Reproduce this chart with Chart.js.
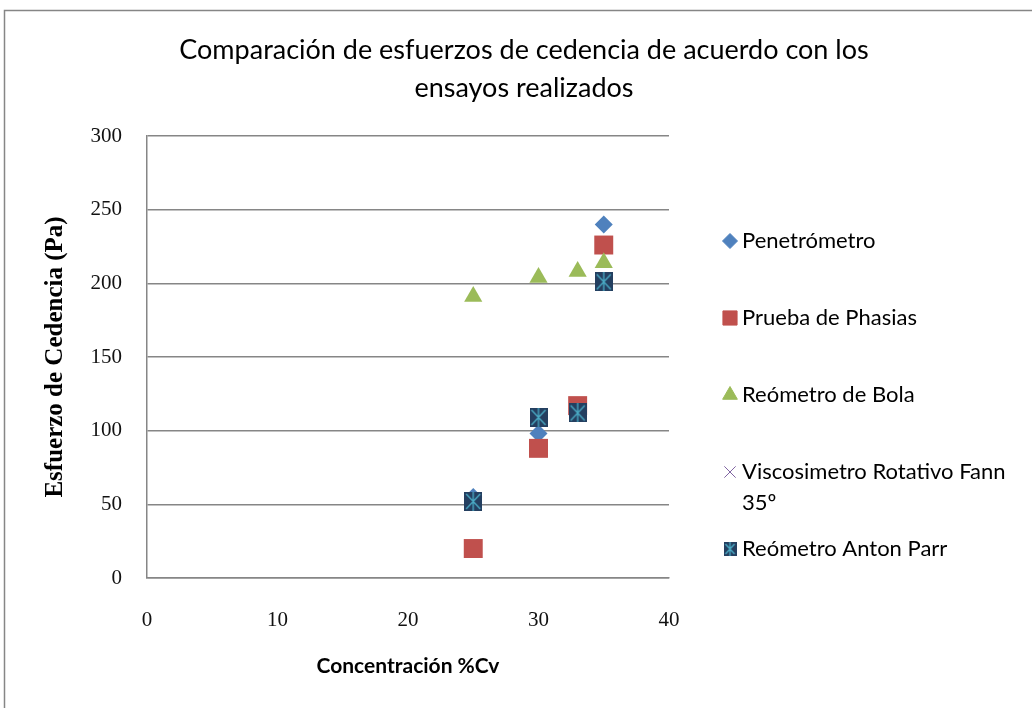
<!DOCTYPE html>
<html>
<head>
<meta charset="utf-8">
<script src="https://cdn.jsdelivr.net/npm/chart.js@4.4.1/dist/chart.umd.min.js"></script>
<style>
  html, body { margin: 0; padding: 0; background: #fff; }
  #wrap { width: 1032px; height: 708px; }
</style>
</head>
<body>
<div id="wrap"><canvas id="chart" width="1032" height="708"></canvas></div>
<script>
const chartTitle = ['Comparación de esfuerzos de cedencia de acuerdo con los', 'ensayos realizados'];
const xAxisTitle = 'Concentración %Cv';
const yAxisTitle = 'Esfuerzo de Cedencia (Pa)';

const seriesNames = ['Penetrómetro', 'Prueba de Phasias', 'Reómetro de Bola', 'Viscosimetro Rotativo Fann 35º', 'Reómetro Anton Parr'];

const penetrometroX = [25, 30, 35];
const penetrometroY = [55, 98, 240];
const phasiasX = [25, 30, 33, 35];
const phasiasY = [20, 88, 117, 226];
const bolaX = [25, 30, 33, 35];
const bolaY = [191, 204, 208, 214];
const fannX = [25, 30, 33, 35];
const fannY = [52, 109, 112, 201];
const antonParrX = [25, 30, 33, 35];
const antonParrY = [52, 109, 112, 201];

const xTicks = [0, 10, 20, 30, 40];
const yTicks = [0, 50, 100, 150, 200, 250, 300];

function toPoints(xs, ys) {
    return xs.map((x, i) => ({ x: x, y: ys[i] }));
}

// marcador tipo "estrella" de Excel: cuadro oscuro con aspa celeste
function makeParrMarker(w, h) {
    const c = document.createElement('canvas');
    c.width = w; c.height = h;
    const g = c.getContext('2d');
    g.fillStyle = '#243F60';
    g.fillRect(0, 0, w, h);
    g.strokeStyle = '#4BACC6';
    g.lineWidth = 1.3;
    g.beginPath();
    g.moveTo(2, 2); g.lineTo(w - 2, h - 2);
    g.moveTo(w - 2, 2); g.lineTo(2, h - 2);
    g.moveTo(w / 2, 0); g.lineTo(w / 2, h);
    g.stroke();
    return c;
}

const parrBig = makeParrMarker(18, 19);
const parrSmall = makeParrMarker(13, 14);

const styles = [
    { color: '#4F81BD', pointStyle: 'rectRot', radius: 9, legendRadius: 7.5 },
    { color: '#C0504D', pointStyle: 'rect', radius: 13.4, legendRadius: 10 },
    { color: '#9BBB59', pointStyle: 'triangle', radius: 10.5, legendRadius: 8.5 },
    { color: '#8064A2', pointStyle: 'crossRot', radius: 9, legendRadius: 8 },
    { color: '#243F60', pointStyle: parrBig, radius: 10, legendStyle: parrSmall, legendRadius: 7 }
];

const seriesData = [
    toPoints(penetrometroX, penetrometroY),
    toPoints(phasiasX, phasiasY),
    toPoints(bolaX, bolaY),
    toPoints(fannX, fannY),
    toPoints(antonParrX, antonParrY)
];

const datasets = seriesNames.map((name, i) => ({
    label: name,
    data: seriesData[i],
    order: seriesNames.length - i, // las series posteriores quedan encima, como en Excel
    pointStyle: styles[i].pointStyle,
    pointRadius: styles[i].radius,
    pointHoverRadius: styles[i].radius,
    backgroundColor: styles[i].color,
    borderColor: styles[i].color,
    borderWidth: i === 3 ? 1 : 0,
    showLine: false
}));

/* ---------------- título, leyenda y marco ---------------- */
const decorPlugin = {
    id: 'decor',
    beforeDraw(chart) {
        const ctx = chart.ctx;
        ctx.save();
        ctx.strokeStyle = '#868686';
        ctx.lineWidth = 1.5;
        ctx.beginPath();
        ctx.moveTo(4.5, 708);
        ctx.lineTo(4.5, 10.5);
        ctx.lineTo(1032, 10.5);
        ctx.stroke();
        ctx.restore();
    },
    afterDraw(chart) {
        const ctx = chart.ctx;
        ctx.save();
        ctx.fillStyle = '#000';
        ctx.textAlign = 'center';
        ctx.textBaseline = 'middle';
        ctx.font = '27px Lato';
        chartTitle.forEach((line, i) => ctx.fillText(line, 524, 50 + i * 38));

        // leyenda
        ctx.font = '22px Lato';
        ctx.textAlign = 'left';
        const maxW = 274;
        seriesNames.forEach((name, i) => {
            const y = 241 + i * 77;
            const st = styles[i];
            ctx.fillStyle = st.color;
            ctx.strokeStyle = st.color;
            ctx.lineWidth = 1;
            Chart.helpers.drawPoint(ctx, {
                pointStyle: st.legendStyle || st.pointStyle,
                radius: st.legendRadius,
                rotation: 0,
                borderWidth: 1
            }, 730, y);
            // ajuste de línea como en la leyenda original
            const words = name.split(' ');
            const lines = [];
            let cur = '';
            words.forEach(w => {
                const test = cur ? cur + ' ' + w : w;
                if (ctx.measureText(test).width > maxW && cur) {
                    lines.push(cur);
                    cur = w;
                } else {
                    cur = test;
                }
            });
            lines.push(cur);
            ctx.fillStyle = '#000';
            lines.forEach((l, j) => ctx.fillText(l, 742, y + j * 31));
        });
        ctx.restore();
    }
};

new Chart(document.getElementById('chart'), {
    type: 'scatter',
    data: { datasets: datasets },
    options: {
        responsive: false,
        animation: false,
        layout: { padding: { top: 136, right: 363, bottom: 0, left: 0 } },
        plugins: {
            legend: { display: false },
            tooltip: { enabled: false },
            title: { display: false }
        },
        scales: {
            x: {
                type: 'linear',
                min: 0,
                max: 40,
                afterFit(scale) { scale.height = 130; },
                afterBuildTicks(scale) { scale.ticks = xTicks.map(v => ({ value: v })); },
                border: { display: true, color: '#868686', width: 1.5 },
                grid: { display: true, drawOnChartArea: false, drawTicks: false, tickLength: 0, color: '#868686', lineWidth: 1.5 },
                ticks: { color: '#111', padding: 30, font: { family: 'Liberation Serif', size: 21 } },
                title: {
                    display: true,
                    text: xAxisTitle,
                    color: '#000',
                    padding: { top: 0, bottom: 29 },
                    font: { family: 'Lato', size: 21, weight: 'bold' }
                }
            },
            y: {
                type: 'linear',
                min: 0,
                max: 300,
                afterFit(scale) { scale.width = 147; },
                afterBuildTicks(scale) { scale.ticks = yTicks.map(v => ({ value: v })); },
                border: { display: true, color: '#868686', width: 1.5 },
                grid: { display: true, drawOnChartArea: true, drawTicks: false, tickLength: 0, color: '#868686', lineWidth: 1.5 },
                ticks: { color: '#111', padding: 25, font: { family: 'Liberation Serif', size: 21 } },
                title: {
                    display: true,
                    text: yAxisTitle,
                    color: '#000',
                    padding: { top: 41, bottom: 0 },
                    font: { family: 'Liberation Serif', size: 25, weight: 'bold' }
                }
            }
        }
    },
    plugins: [decorPlugin]
});
</script>
</body>
</html>
